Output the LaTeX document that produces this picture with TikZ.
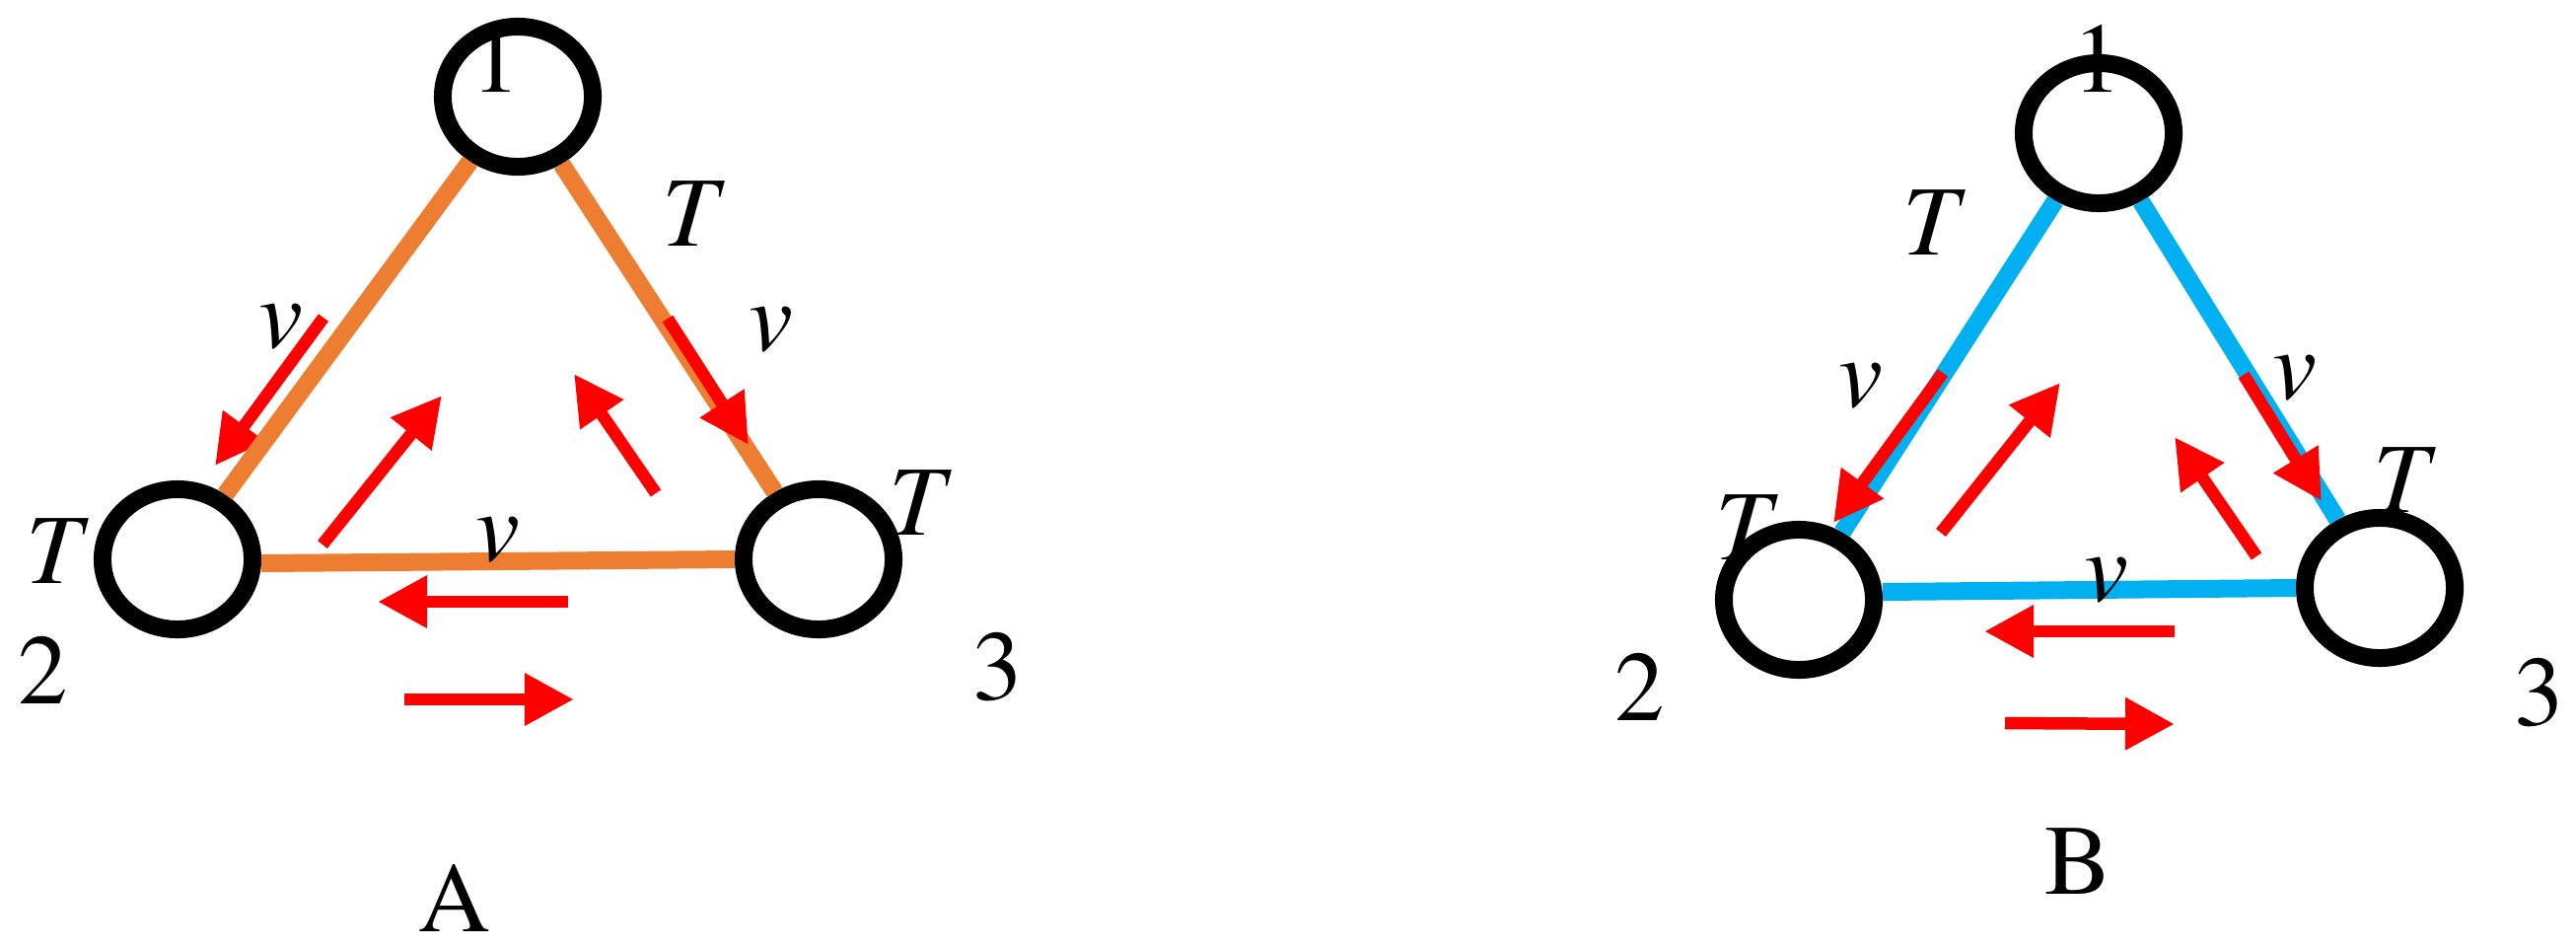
\documentclass[tikz,border=0pt]{standalone}
\usepackage{fontspec}
\setmainfont{texgyretermes}[Extension=.otf, UprightFont=*-regular, ItalicFont=*-italic, BoldFont=*-bold, BoldItalicFont=*-bolditalic]
\usetikzlibrary{shapes.geometric}
\usetikzlibrary{arrows.meta}

\definecolor{bondorange}{HTML}{ED7D31}
\definecolor{bondblue}{HTML}{00B0F0}

\begin{document}
\begin{tikzpicture}[x=0.01cm, y=-0.01cm, ring/.style={ellipse, draw, line width=0.18cm, minimum width=1.52cm, minimum height=1.42cm, inner sep=0}, bondA/.style={draw=bondorange, line width=0.18cm}, bondB/.style={draw=bondblue, line width=0.18cm}, flow/.style={color=red, line width=0.125cm, -{Triangle[length=0.5cm, width=0.5cm]}}, lbl/.style={inner sep=0, font=\fontsize{28.7}{34}\selectfont}, var/.style={inner sep=0, font=\fontsize{28.7}{34}\selectfont\itshape}]
	\useasboundingbox (0,0) rectangle (2612,960);

	% nodes
	\node[ring] (ringA1) at (525,98) {}; %
	\node[ring] (ringA2) at (180,567) {}; %
	\node[ring] (ringA3) at (830,567) {}; %
	\node[ring] (ringB1) at (2128,135) {}; %
	\node[ring] (ringB2) at (1824,608) {}; %
	\node[ring] (ringB3) at (2413,596) {}; %

	% flow ends
	\coordinate (fA1s) at (328,322); \coordinate (fA1e) at (218,472);
	\coordinate (fA2s) at (677,323); \coordinate (fA2e) at (759,451);
	\coordinate (fA3s) at (327,552); \coordinate (fA3e) at (448,401);
	\coordinate (fA4s) at (665,500); \coordinate (fA4e) at (582,379);
	\coordinate (fA5s) at (576,610); \coordinate (fA5e) at (383,610);
	\coordinate (fA6s) at (410,709); \coordinate (fA6e) at (582,709);
	\coordinate (fB1s) at (1970,378); \coordinate (fB1e) at (1859,530);
	\coordinate (fB2s) at (2275,380); \coordinate (fB2e) at (2354,508);
	\coordinate (fB3s) at (1968,540); \coordinate (fB3e) at (2089,388);
	\coordinate (fB4s) at (2288,564); \coordinate (fB4e) at (2205,443);
	\coordinate (fB5s) at (2205,640); \coordinate (fB5e) at (2012,640);
	\coordinate (fB6s) at (2033,733); \coordinate (fB6e) at (2205,734);

	% edges
	\draw[flow] (fA1s) -- (fA1e);
	\draw[bondA] (ringA1) -- (ringA2);
	\draw[bondA] (ringA1) -- (ringA3);
	\draw[bondA] (ringA2.east) ++(0,4) -- (ringA3.west);
	\draw[bondB] (ringB1) -- (ringB2);
	\draw[bondB] (ringB1) -- (ringB3);
	\draw[bondB] (ringB2.east) ++(0,-8) -- (ringB3.west);

	% flows
	\draw[flow] (fA2s) -- (fA2e);
	\draw[flow] (fA3s) -- (fA3e);
	\draw[flow] (fA4s) -- (fA4e);
	\draw[flow] (fA5s) -- (fA5e);
	\draw[flow] (fA6s) -- (fA6e);
	\draw[flow] (fB1s) -- (fB1e);
	\draw[flow] (fB2s) -- (fB2e);
	\draw[flow] (fB3s) -- (fB3e);
	\draw[flow] (fB4s) -- (fB4e);
	\draw[flow] (fB5s) -- (fB5e);
	\draw[flow] (fB6s) -- (fB6e);

	% labels
	\node[lbl] (numA1) at (503,59) {1}; %
	\node[lbl] (numA2) at (44,679) {2}; %
	\node[lbl] (numA3) at (1012,676) {3}; %
	\node[var] (tA13) at (700,217) {T}; %
	\node[var] (tA2) at (55,559) {T}; %
	\node[var] (tA3) at (930,510) {T}; %
	\node[var] (vA12) at (285,331) {v}; %
	\node[var] (vA13) at (782,334) {v}; %
	\node[var] (vA23) at (505,547) {v}; %
	\node[lbl] (capA) at (461,910) {A}; %

	\node[lbl] (numB1) at (2127,59) {1}; %
	\node[lbl] (numB2) at (1663,696) {2}; %
	\node[lbl] (numB3) at (2575,702) {3}; %
	\node[var] (tB12) at (1958,226) {T}; %
	\node[var] (tB2) at (1768,535) {T}; %
	\node[var] (tB3) at (2435,487) {T}; %
	\node[var] (vB12) at (1887,391) {v}; %
	\node[var] (vB13) at (2327,383) {v}; %
	\node[var] (vB23) at (2136,588) {v}; %
	\node[lbl] (capB) at (2107,873) {B}; %
\end{tikzpicture}
\end{document}
